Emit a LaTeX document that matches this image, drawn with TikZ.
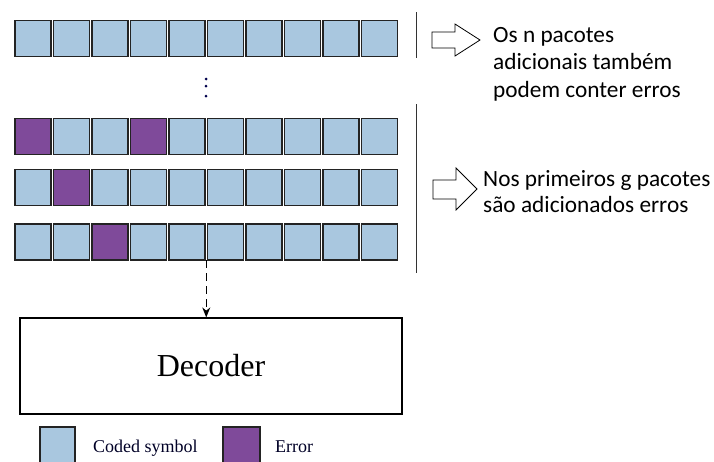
\documentclass[tikz,border=0pt]{standalone}
\usepackage{fontspec}
\usetikzlibrary{calc,arrows.meta}
\setmainfont{Liberation Serif}
\newfontfamily\calib{Carlito}
\definecolor{cblue}{RGB}{169,199,223}
\definecolor{cpurp}{RGB}{127,74,154}
\definecolor{cedge}{RGB}{35,35,35}
\tikzset{
  sym/.style={draw=cedge,line width=1.3pt,minimum width=36pt,minimum height=36pt,inner sep=0pt,outer sep=0pt},
  cs/.style={sym,fill=cblue},
  er/.style={sym,fill=cpurp},
  rtext/.style={anchor=base west,inner sep=0pt,font=\calib\fontsize{23.3}{27}\selectfont},
  openarrow/.style={draw=black,line width=0.8pt,fill=white,line join=miter},
}
\begin{document}
\begin{tikzpicture}[x=1pt,y=-1pt]
\useasboundingbox (0,0) rectangle (714,461);
% row 1
\foreach \i in {0,...,9}{
  \node[cs] (ra\i) at ({33+38.5*\i},38.5) {};
}
% dots
\foreach \yy [count=\k] in {79,86,96}{
  \fill[black!70!blue] (206,\yy) circle (1.5pt);
}
% row 2
\foreach \i in {0,...,9}{
  \ifnum\i=0 \node[er] (rb\i) at ({33+38.5*\i},136.5) {};
  \else\ifnum\i=3 \node[er] (rb\i) at ({33+38.5*\i},136.5) {};
  \else \node[cs] (rb\i) at ({33+38.5*\i},136.5) {};\fi\fi
}
% row 3
\foreach \i in {0,...,9}{
  \ifnum\i=1 \node[er] (rc\i) at ({33+38.5*\i},187.5) {};
  \else \node[cs] (rc\i) at ({33+38.5*\i},187.5) {};\fi
}
% row 4
\foreach \i in {0,...,9}{
  \ifnum\i=2 \node[er] (rd\i) at ({33+38.5*\i},242) {};
  \else \node[cs] (rd\i) at ({33+38.5*\i},242) {};\fi
}
% vertical separators
\draw[line width=1pt,black!80] (416,12) -- (416,58);
\draw[line width=1pt,black!80] (416,104) -- (416,273);
% decoder
\node[draw=black,line width=1.2pt,minimum width=382pt,minimum height=96pt,inner sep=0pt,
  font=\fontsize{32}{36}\selectfont] (dec) at (211,366) {Decoder};
\coordinate (src) at ($(rd4.south east)!0.5!(rd5.south west)$);
\draw[line width=1.5pt,dash pattern=on 8pt off 5pt,-{Stealth[length=10pt,width=8pt]}] (src) -- (src |- dec.north);
% open arrows
\draw[openarrow] (432,32) -- (455,32) -- (455,24) -- (480,40) -- (455,56) -- (455,48) -- (432,48) -- cycle;
\draw[openarrow] (433,180) -- (456,180) -- (456,168) -- (477,189) -- (456,210) -- (456,199) -- (433,199) -- cycle;
% right texts
\node[rtext] (t1) at (493,42) {Os n pacotes};
\node[rtext] (t2) at (493,69.5) {adicionais também};
\node[rtext] (t3) at (493,97) {podem conter erros};
\node[rtext] (t4) at (483,186) {Nos primeiros g pacotes};
\node[rtext] (t5) at (483,212) {são adicionados erros};
% legend
\node[cs,minimum width=35pt] (lg1) at (57.5,445) {};
\node[anchor=base west,inner sep=0pt,font=\fontsize{18}{20}\selectfont,text=black!85!blue] (lt1) at (93,452) {Coded symbol};
\node[er,minimum width=37pt] (lg2) at (241.5,445) {};
\node[anchor=base west,inner sep=0pt,font=\fontsize{18}{20}\selectfont,text=black!85!blue] (lt2) at (275,452) {Error};
\end{tikzpicture}
\end{document}
